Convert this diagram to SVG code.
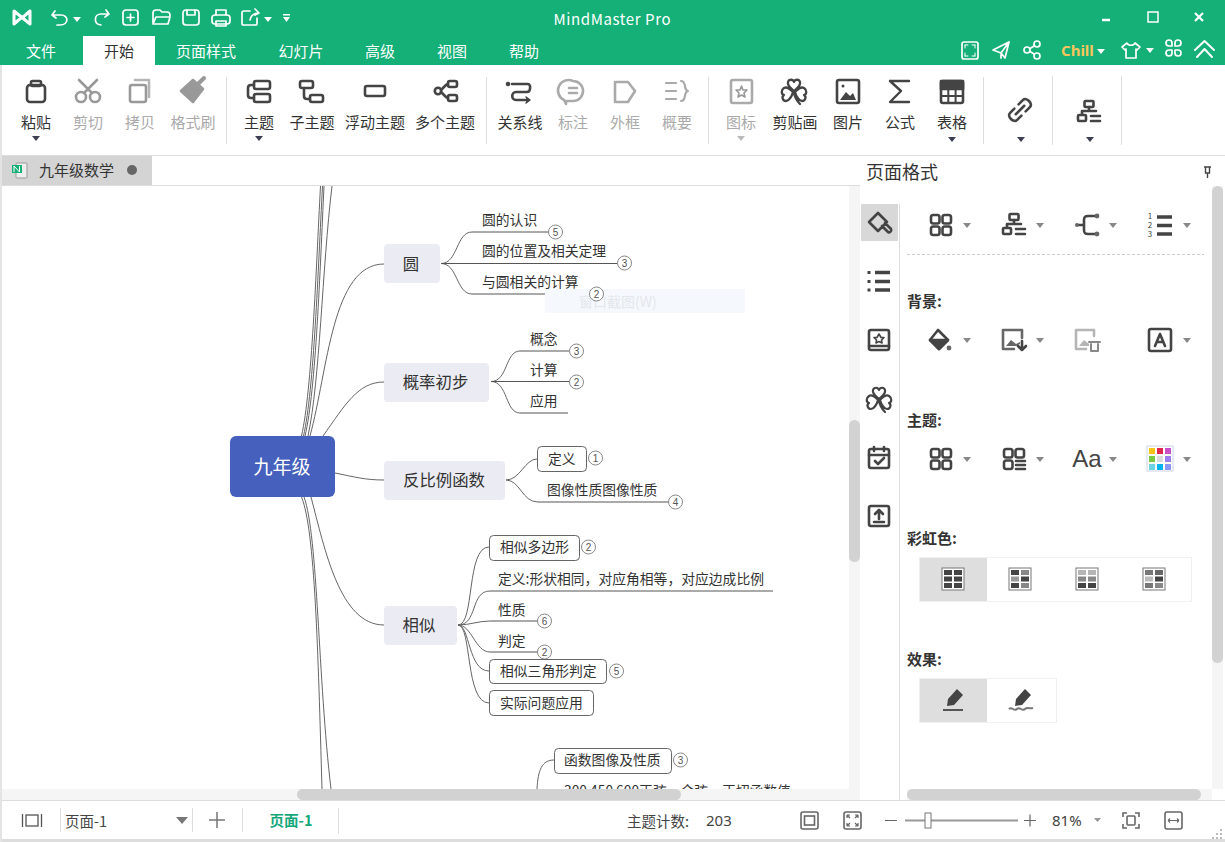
<svg xmlns="http://www.w3.org/2000/svg" xmlns:xlink="http://www.w3.org/1999/xlink" width="1225" height="842" viewBox="0 0 1225 842">
<style>
text{font-family:"Noto Sans CJK SC","Noto Sans","Liberation Sans",sans-serif;dominant-baseline:central;transform:translateY(-1px)}
.tab{font-size:15px;fill:#fff;text-anchor:middle}
.rb{font-size:15px;fill:#333;text-anchor:middle}
.rbg{font-size:15px;fill:#aaa;text-anchor:middle}
.ic{fill:none;stroke:#444;stroke-width:2.6;stroke-linecap:round;stroke-linejoin:round}
.icg{fill:none;stroke:#999;stroke-width:2.6;stroke-linecap:round;stroke-linejoin:round}
.iw{fill:none;stroke:#fff;stroke-width:1.7;stroke-linecap:round;stroke-linejoin:round}
.sep{stroke:#ddd;stroke-width:1}
.cd{fill:#3c3f50}
.cl{fill:#888}
.h{font-size:15px;font-weight:700;fill:#333}
.lk{fill:none;stroke:#666;stroke-width:1}
.ul{fill:none;stroke:#555;stroke-width:1}
.n2{fill:#ebebf3}
.n2t{font-size:16.4px;fill:#333;text-anchor:middle}
.leaf{font-size:13.8px;fill:#333}
.box{fill:#fff;stroke:#666;stroke-width:1}
.bd{fill:#fff;stroke:#888;stroke-width:1}
.bdt{font-size:10px;fill:#555;text-anchor:middle;font-family:"Liberation Sans",sans-serif;transform:none}
.st{font-size:14.5px;fill:#444}
.thumb{fill:#d2d2d2}
.trk{fill:#f5f5f5}
</style>
<defs>
<path id="cd" d="M-4,-2H4L0,3Z"/>
<g id="grid"><rect x="-10" y="-10" width="8.500" height="8.500" rx="2.200"/><rect x="1.500" y="-10" width="8.500" height="8.500" rx="2.200"/><rect x="-10" y="1.500" width="8.500" height="8.500" rx="2.200"/><rect x="1.500" y="1.500" width="8.500" height="8.500" rx="2.200"/></g>
<g id="org"><rect x="-4.500" y="-11" width="9" height="6" rx="1"/><path d="M0,-5V-1M-7,2V-1H7"/><rect x="-11" y="3" width="8" height="6" rx="1"/><path d="M2,4H11M2,9H11"/></g>
<g id="clover"><path d="M0,-1C-3,-4 -7,-6 -6,-10C-5,-13 -1,-13 0,-10C1,-13 5,-13 6,-10C7,-6 3,-4 0,-1ZM-1,0C-4,-3 -7,-6 -10,-4C-13,-2 -13,2 -10,3C-13,5 -11,9 -8,9C-5,9 -2,4 -1,0ZM1,0C4,-3 7,-6 10,-4C13,-2 13,2 10,3C13,5 11,9 8,9C5,9 2,4 1,0ZM0,1C1,6 3,9 6,12"/></g>
</defs>

<rect width="1225" height="842" fill="#fff"/>

<!-- canvas: connectors -->
<g id="connectors" class="lk">
<path d="M301.500,436C312,390 316,270 320.500,186"/>
<path d="M303.500,436C314,390 318,270 322.500,186"/>
<path d="M305,436C316,390 320,270 324,186"/>
<path d="M308,436C320,380 322,270 332,186"/>
<path d="M310,436C328,370 332,264 384,264"/>
<path d="M323,436C345,405 358,382 384,382"/>
<path d="M335,473C355,477 365,480 384,480"/>
<path d="M311,497C325,550 340,625 384,625"/>
<path d="M301.500,497C315,530 318,650 322,789"/>
<path d="M304,497C318,535 318,680 331,789"/>
<path d="M441,263.500C458,263.500 456,232 472,232"/>
<path d="M441,263.500C458,263.500 456,294 472,294"/>
<path d="M491,381.500C508,381.500 505,351 520,351"/>
<path d="M491,381.500C508,381.500 505,413 520,413"/>
<path d="M506,480C520,480 525,459 537,459"/>
<path d="M506,480C520,480 522,502 538,502"/>
<path d="M458,625C475,625 466,547 489,547"/>
<path d="M458,625C478,625 470,591 490,591"/>
<path d="M458,625C470,625 478,621 490,621"/>
<path d="M458,625C472,625 475,652 490,652"/>
<path d="M458,625C470,625 468,671 489,671"/>
<path d="M458,625C472,625 465,703 489,703"/>
<path d="M537,789C538,770 542,760 554,760"/>
<path class="ul" d="M472,232H549M441,263.500H617M472,294H590M520,351H569M491,381.500H569M520,413H568M538,502H669M490,591H773M490,621H538M490,652H538"/>
</g>

<rect x="545" y="289" width="200" height="24" fill="#f5f9fe"/>
<text x="579" y="302" font-size="14" fill="#e4e7ea">窗口截图(W)</text>

<!-- nodes -->
<g id="node-root"><rect x="230" y="436" width="105" height="61" rx="6" fill="#4560bd"/><text x="282" y="466" font-size="19" fill="#fff" text-anchor="middle">九年级</text></g>
<g id="node-yuan"><rect class="n2" x="384" y="244" width="56" height="39" rx="4"/><text class="n2t" x="411" y="264">圆</text></g>
<g id="node-gailv"><rect class="n2" x="384" y="363" width="105" height="39" rx="4"/><text class="n2t" x="435.500" y="382">概率初步</text></g>
<g id="node-fanbili"><rect class="n2" x="384" y="461" width="121" height="39" rx="4"/><text class="n2t" x="444" y="480">反比例函数</text></g>
<g id="node-xiangsi"><rect class="n2" x="384" y="606" width="73" height="39" rx="4"/><text class="n2t" x="419" y="625">相似</text></g>

<g id="leaf-1"><text class="leaf" x="482" y="220">圆的认识</text><circle class="bd" cx="555.500" cy="232" r="7"/><text class="bdt" x="555.500" y="232">5</text></g>
<g id="leaf-2"><text class="leaf" x="482" y="251">圆的位置及相关定理</text><circle class="bd" cx="624.500" cy="263" r="7"/><text class="bdt" x="624.500" y="263">3</text></g>
<g id="leaf-3"><text class="leaf" x="482" y="282">与圆相关的计算</text><circle class="bd" cx="596.500" cy="294" r="7"/><text class="bdt" x="596.500" y="294">2</text></g>
<g id="leaf-4"><text class="leaf" x="530" y="339">概念</text><circle class="bd" cx="576.500" cy="351" r="7"/><text class="bdt" x="576.500" y="351">3</text></g>
<g id="leaf-5"><text class="leaf" x="530" y="370">计算</text><circle class="bd" cx="576.500" cy="382" r="7"/><text class="bdt" x="576.500" y="382">2</text></g>
<g id="leaf-6"><text class="leaf" x="530" y="401">应用</text></g>
<g id="leaf-7"><rect class="box" x="537.500" y="446.500" width="49" height="25" rx="4"/><text class="leaf" x="548" y="459">定义</text><circle class="bd" cx="595.500" cy="458" r="7"/><text class="bdt" x="595.500" y="458">1</text></g>
<g id="leaf-8"><text class="leaf" x="547" y="490">图像性质图像性质</text><circle class="bd" cx="675.500" cy="502" r="7"/><text class="bdt" x="675.500" y="502">4</text></g>
<g id="leaf-9"><rect class="box" x="489.500" y="535.500" width="90" height="25" rx="4"/><text class="leaf" x="500" y="547">相似多边形</text><circle class="bd" cx="588.500" cy="547" r="7"/><text class="bdt" x="588.500" y="547">2</text></g>
<g id="leaf-10"><text class="leaf" x="498" y="579">定义:形状相同，对应角相等，对应边成比例</text></g>
<g id="leaf-11"><text class="leaf" x="498" y="610">性质</text><circle class="bd" cx="544.500" cy="621" r="7"/><text class="bdt" x="544.500" y="621">6</text></g>
<g id="leaf-12"><text class="leaf" x="498" y="641">判定</text><circle class="bd" cx="544.500" cy="652" r="7"/><text class="bdt" x="544.500" y="652">2</text></g>
<g id="leaf-13"><rect class="box" x="489.500" y="659.500" width="117" height="24" rx="4"/><text class="leaf" x="500" y="671">相似三角形判定</text><circle class="bd" cx="616.500" cy="671" r="7"/><text class="bdt" x="616.500" y="671">5</text></g>
<g id="leaf-14"><rect class="box" x="489.500" y="690.500" width="104" height="25" rx="4"/><text class="leaf" x="500" y="703">实际问题应用</text></g>
<g id="leaf-15"><rect class="box" x="554.500" y="748.500" width="117" height="25" rx="4"/><text class="leaf" x="564" y="760">函数图像及性质</text><circle class="bd" cx="680.500" cy="760" r="7"/><text class="bdt" x="680.500" y="760">3</text></g>
<g id="leaf-16"><text class="leaf" x="564" y="791">300 450 600正弦、余弦、正切函数值</text></g>

<!-- scrollbars of canvas -->
<rect class="trk" x="2" y="789" width="858" height="12"/>
<rect class="thumb" x="297" y="789" width="384" height="11" rx="5.500"/>
<rect class="trk" x="849" y="186" width="11" height="603"/>
<rect class="thumb" x="849" y="420" width="11" height="142" rx="5.500"/>

<!-- right panel -->
<g id="panel">
<rect x="860" y="156" width="365" height="645" fill="#fff"/>
<text x="866" y="172" font-size="18" fill="#333">页面格式</text>
<path d="M1204,167h7M1205.500,167v6h4v-6M1207.500,173v5" fill="none" stroke="#444" stroke-width="1.400"/>
<rect x="861" y="204" width="37" height="37" fill="#d8d8d8"/>
<path class="sep" d="M899.500,204V800"/>
<rect class="trk" x="1212" y="186" width="11" height="603"/>
<rect class="thumb" x="1212" y="186" width="11" height="477" rx="5.500"/>
<rect class="trk" x="907" y="789" width="305" height="11"/>
<rect class="thumb" x="907" y="789" width="294" height="11" rx="5.500"/>
<!-- nav icons -->
<g transform="translate(879,223)" class="ic"><path d="M-10,-1L-1,-10L8,-1L-1,8ZM-5,-6L-1,-10M3,3L9,9A2,2 0 0 0 11,5L6,0"/></g>
<g transform="translate(879,281)" fill="none" stroke="#444"><path d="M-4,-8.500H11M-4,0.500H11M-4,9H11" stroke-width="3.500"/><path d="M-11.500,-8.500H-8.500M-11.500,0.500H-8.500M-11.500,9H-8.500" stroke-width="3"/></g>
<g transform="translate(879,340)" class="ic"><rect x="-10" y="-10" width="20" height="20" rx="2"/><path d="M-10,6H10"/><path d="M0,-6L2,-2.500H5L2.500,0L3,3L0,1.500L-3,3L-2.500,0L-5,-2.500H-2Z" stroke-width="1.600"/></g>
<use href="#clover" transform="translate(879,400)" class="ic" style="stroke-width:2.200"/>
<g transform="translate(879,458)" class="ic"><rect x="-10" y="-9" width="20" height="19" rx="2"/><path d="M-10,-3H10M-5,-11V-7M5,-11V-7M-4,3L-1,6L5,0"/></g>
<g transform="translate(879,516)" class="ic"><rect x="-10" y="-10" width="20" height="20" rx="2"/><path d="M0,3V-5M-4,-2L0,-6L4,-2M-5,6H5"/></g>
<!-- row 1 -->
<use href="#grid" transform="translate(941,225)" class="ic"/>
<use href="#org" transform="translate(1014,225)" class="ic"/>
<g transform="translate(1087,225)" class="ic"><path d="M-8,0H-3M8,-9H1C-2,-9 -3,-8 -3,-5V5C-3,8 -2,9 1,9H8"/><circle cx="-10" cy="0" r="2" fill="#666" stroke="none"/><circle cx="10" cy="-9" r="2.400" fill="#666" stroke="none"/><circle cx="10" cy="9" r="2.400" fill="#666" stroke="none"/></g>
<path d="M1157,217H1172M1157,225.500H1172M1157,234H1172" fill="none" stroke="#444" stroke-width="3.500"/>
<text x="1150" y="216.500" font-size="8" fill="#444" text-anchor="middle">1</text><text x="1150" y="225.500" font-size="8" fill="#444" text-anchor="middle">2</text><text x="1150" y="234.500" font-size="8" fill="#444" text-anchor="middle">3</text>
<g class="cl"><use href="#cd" x="967" y="225"/><use href="#cd" x="1040" y="225"/><use href="#cd" x="1113" y="225"/><use href="#cd" x="1187" y="225"/></g>
<path d="M907,254.500H1204" stroke="#ccc" stroke-dasharray="3 2"/>
<text class="h" x="907" y="301">背景:</text>
<g transform="translate(939,340)" class="ic"><path d="M-1,-10L9,0L0,9L-9,0Z"/><path d="M-9,0L9,0L0,9Z" fill="#444"/><circle cx="10" cy="8" r="2.400" fill="#666" stroke="none"/></g>
<g transform="translate(1013,340)" class="ic"><path d="M9,-2V-10H-10V9H1" stroke="#666"/><path d="M-7,6L-2,0L3,4L7,2V4L3,6Z" fill="#666" stroke="none"/><path d="M9,1V10M5,6L9,10L13,6"/></g>
<g transform="translate(1086,340)" class="icg"><path d="M8,-4V-10H-10V9H0" stroke="#b5b5b5"/><path d="M-7,6L-2,0L3,4V6Z" fill="#b5b5b5" stroke="none"/><path d="M3,2H14M5,4V11H12V4" stroke="#888" stroke-width="2"/></g>
<g transform="translate(1160,340)" class="ic"><rect x="-11" y="-11" width="22" height="22" rx="2"/><path d="M-5,6L0,-6L5,6M-3,2H3"/></g>
<g class="cl"><use href="#cd" x="967" y="340"/><use href="#cd" x="1040" y="340"/><use href="#cd" x="1187" y="340"/></g>
<text class="h" x="907" y="420">主题:</text>
<use href="#grid" transform="translate(941,459)" class="ic"/>
<g transform="translate(1014,459)" class="ic"><rect x="-10" y="-10" width="8.500" height="8.500" rx="2.200"/><rect x="1.500" y="-10" width="8.500" height="8.500" rx="2.200"/><rect x="-10" y="1.500" width="8.500" height="8.500" rx="2.200"/><path d="M2,2H11M2,6H11M2,10H11"/></g>
<text x="1087" y="459" font-size="24" fill="#444" text-anchor="middle" style="font-family:'Liberation Sans',sans-serif">Aa</text>
<g transform="translate(1160,459)"><rect x="-13" y="-13" width="26" height="25" fill="#fff" stroke="#ccd3e6"/>
<rect x="-11" y="-11" width="6" height="6" fill="#f5c518"/><rect x="-3" y="-11" width="6" height="6" fill="#e0274f"/><rect x="5" y="-11" width="6" height="6" fill="#c94fc9"/>
<rect x="-11" y="-3" width="6" height="6" fill="#7ac943"/><rect x="-3" y="-3" width="6" height="6" fill="#d9d9d9"/><rect x="5" y="-3" width="6" height="6" fill="#9b7ff0"/>
<rect x="-11" y="5" width="6" height="6" fill="#6fd3e3"/><rect x="-3" y="5" width="6" height="6" fill="#00b4f0"/><rect x="5" y="5" width="6" height="6" fill="#8c96f5"/></g>
<g class="cl"><use href="#cd" x="967" y="459"/><use href="#cd" x="1040" y="459"/><use href="#cd" x="1113" y="459"/><use href="#cd" x="1187" y="459"/></g>
<text class="h" x="907" y="538">彩虹色:</text>
<rect x="919.500" y="557.500" width="272" height="44" fill="#fff" stroke="#f0f0f0"/>
<rect x="920" y="558" width="67" height="43" fill="#dedede"/>
<g transform="translate(953,579)"><rect x="-11" y="-11" width="22" height="22" fill="#fff" stroke="#777"/><g fill="#444"><rect x="-9" y="-9" width="8" height="5"/><rect x="1" y="-9" width="8" height="5"/><rect x="-9" y="-2.500" width="8" height="5"/><rect x="1" y="-2.500" width="8" height="5"/><rect x="-9" y="4" width="8" height="5"/><rect x="1" y="4" width="8" height="5"/></g></g>
<g transform="translate(1020,579)"><rect x="-11" y="-11" width="22" height="22" fill="#fff" stroke="#777"/><rect x="-9" y="-9" width="8" height="5" fill="#444"/><rect x="1" y="-9" width="8" height="5" fill="#888"/><rect x="-9" y="-2.500" width="8" height="5" fill="#999"/><rect x="1" y="-2.500" width="8" height="5" fill="#444"/><rect x="-9" y="4" width="8" height="5" fill="#444"/><rect x="1" y="4" width="8" height="5" fill="#888"/></g>
<g transform="translate(1087,579)"><rect x="-11" y="-11" width="22" height="22" fill="#fff" stroke="#777"/><rect x="-9" y="-9" width="8" height="5" fill="#b5b5b5"/><rect x="1" y="-9" width="8" height="5" fill="#b5b5b5"/><rect x="-9" y="-2.500" width="8" height="5" fill="#888"/><rect x="1" y="-2.500" width="8" height="5" fill="#888"/><rect x="-9" y="4" width="8" height="5" fill="#444"/><rect x="1" y="4" width="8" height="5" fill="#444"/></g>
<g transform="translate(1154,579)"><rect x="-11" y="-11" width="22" height="22" fill="#fff" stroke="#777"/><rect x="-9" y="-9" width="8" height="5" fill="#777"/><rect x="1" y="-9" width="8" height="5" fill="#666"/><rect x="-9" y="-2.500" width="8" height="5" fill="#bbb"/><rect x="1" y="-2.500" width="8" height="5" fill="#444"/><rect x="-9" y="4" width="8" height="5" fill="#777"/><rect x="1" y="4" width="8" height="5" fill="#888"/></g>
<text class="h" x="907" y="659">效果:</text>
<rect x="919.500" y="678.500" width="137" height="44" fill="#fff" stroke="#f0f0f0"/>
<rect x="920" y="679" width="67" height="43" fill="#dedede"/>
<g transform="translate(953,700)"><path d="M4,-11L10,-5L1,5L-6,6L-5,-1Z" fill="#444"/><path d="M-10,10H10" stroke="#555" stroke-width="2"/></g>
<g transform="translate(1021,700)"><path d="M4,-11L10,-5L1,5L-6,6L-5,-1Z" fill="#444"/><path d="M-12,9C-9,6 -7,12 -4,9C-1,6 1,12 4,9C6,7 9,9 12,8" fill="none" stroke="#777" stroke-width="2"/></g>
</g>

<!-- title bar + tabs -->
<g id="titlebar">
<rect width="1225" height="65" fill="#15af78"/>
<rect x="83" y="36" width="72" height="29" fill="#fff"/>
<path d="M14,24V11L30,24V11M14,24L22,17M30,11L22,18" fill="none" stroke="#fff" stroke-width="3" stroke-linejoin="round" stroke-linecap="round"/>
<g class="iw">
<path d="M55,11L52,15L56,18M52,15H61C69,15 69,25 60,25H57"/>
<path d="M106,10L109,14L105,17M109,14H101C94,14 93,24 101,25"/>
<rect x="123" y="10" width="15" height="15" rx="3"/><path d="M130.500,14V21M127,17.500H134"/>
<path d="M153,24V13C153,11 154,10 156,10H160L162,12H167C169,12 170,13 170,15V16M153,24L156,17H170L168,24Z"/>
<rect x="183" y="10" width="16" height="15" rx="3"/><path d="M187,10V15H195V10"/>
<rect x="212" y="15" width="18" height="9" rx="3"/><path d="M216,15V10H226V15M216,21H226V26H216Z"/>
<path d="M250,11H244C243,11 242,12 242,13V24C242,25 243,25 244,25H255C256,25 257,25 257,24V18M250,20C251,15 254,13 259,13M255,9L259,13L255,15"/>
</g>
<g fill="#fff"><use href="#cd" x="77" y="19"/><use href="#cd" x="268" y="19"/><path d="M283,14H290V15.500H283ZM283,17H290L286.500,22Z"/></g>
<text x="612" y="19" font-size="15" fill="#fff" text-anchor="middle" textLength="117">MindMaster Pro</text>
<path d="M1102,20H1110" stroke="#fff" stroke-width="2.500"/>
<rect x="1148" y="12" width="10" height="10" fill="none" stroke="#fff" stroke-width="1.500"/>
<path d="M1195,13L1203,21M1203,13L1195,21" stroke="#fff" stroke-width="2.200"/>
<text class="tab" x="41" y="51">文件</text>
<text class="tab" x="119" y="51" style="fill:#333">开始</text>
<text class="tab" x="206" y="51">页面样式</text>
<text class="tab" x="301" y="51">幻灯片</text>
<text class="tab" x="380" y="51">高级</text>
<text class="tab" x="452" y="51">视图</text>
<text class="tab" x="524" y="51">帮助</text>
<g class="iw">
<rect x="962" y="42" width="16" height="17" rx="2"/><path d="M965,45h3M965,45v3M975,45h-3M975,45v3M965,56h3M965,56v-3M975,56h-3M975,56v-3" stroke-width="1"/>
<path d="M993,50L1009,42L1005,58L1001,53ZM1001,53L1001,58M1009,42L1001,53"/>
<circle cx="1027" cy="50" r="3"/><circle cx="1037" cy="44" r="3"/><circle cx="1037" cy="56" r="3"/><path d="M1030,48.500L1034,46M1030,51.500L1034,54"/>
<path d="M1127,43L1122,47L1125,50L1126,49V58H1136V49L1137,50L1140,47L1135,43C1134,46 1128,46 1127,43Z"/>
<path d="M1169,46h3v-3a3,3 0 1 0 -3,3ZM1178,46h-3v-3a3,3 0 1 1 3,3ZM1169,50h3v3a3,3 0 1 1 -3,-3ZM1178,50h-3v3a3,3 0 1 0 3,-3Z"/>
<path d="M1195,50L1204.500,41L1214,50M1197,57L1204.500,49L1212,57" stroke-width="2"/>
</g>
<text x="1061" y="51" font-size="15" font-weight="700" fill="#f6c65b" style="font-family:'Noto Sans',sans-serif">Chill</text>
<g fill="#fff"><use href="#cd" x="1101" y="51"/><use href="#cd" x="1150" y="50"/></g>
</g>

<!-- ribbon -->
<g id="ribbon">
<path class="sep" d="M226.500,77V144M486.500,77V144M708.500,77V144M983.500,77V144M1052.500,76V145M1121.500,76V145"/>
<g class="ic">
<rect x="27" y="85" width="18" height="17" rx="3"/><rect x="31" y="81" width="10" height="5" rx="1.500"/>
<rect x="254" y="81" width="16" height="8" rx="2"/><rect x="254" y="94" width="16" height="8" rx="2"/><path d="M254,85H251C249,85 248,86 248,88V95C248,97 249,98 251,98H254"/>
<rect x="300" y="81" width="13" height="7" rx="2"/><rect x="310" y="95" width="13" height="7" rx="2"/><path d="M304,88V96C304,98 305,99 307,99H310"/>
<rect x="365" y="86" width="20" height="10" rx="2"/>
<circle cx="438" cy="91" r="3.200"/><rect x="448" y="81" width="9" height="6" rx="2"/><rect x="448" y="95" width="9" height="6" rx="2"/><path d="M441,90L446,85L448,84M441,92L446,97L448,98"/>
<path d="M512,84H528C531,84 531,92 527,92H516C511,92 511,100 516,100H525"/>
<circle cx="508" cy="84" r="1" fill="#444"/><path d="M526,97L530,100L526,103" fill="#444" stroke-width="1.500"/>
<path d="M890,81H909M890,81L901,91L890,102H909" stroke-width="2.400"/>
<rect x="941" y="81" width="22" height="22" rx="2"/><path d="M941,89H963M941,96H963M948.300,89V103M955.600,89V103" stroke-width="2"/><rect x="941" y="81" width="22" height="8" fill="#444"/>
<g transform="translate(1020,110) rotate(-45)"><path d="M-3,-5H-9C-14,-5 -14,5 -9,5H-3M3,-5H9C14,-5 14,5 9,5H3M-6,0H6"/></g>
<use href="#clover" transform="translate(794,92)" style="stroke-width:2.300"/>
<use href="#org" transform="translate(1089,112)"/>
</g>
<rect x="837" y="80" width="22" height="23" rx="2" fill="none" stroke="#444" stroke-width="2.600"/><path d="M840,100L846,92L850,96L853,93L856,100Z" fill="#444"/><circle cx="843" cy="86" r="1.500" fill="#444"/>
<g class="icg">
<circle cx="81" cy="97" r="5"/><circle cx="95" cy="97" r="5"/><path d="M84,93L97,80M92,93L79,80"/>
<rect x="130" y="85" width="16" height="17" rx="2"/><path d="M135,80H149V97" stroke="#b5b5b5"/>
<path d="M193,80L203,89L193,102L181,91Z" fill="#999"/><path d="M196,86L204,78" stroke-width="4"/>
<rect x="731" y="80" width="21" height="23" rx="2" stroke="#aaa"/><path d="M741.500,86L743,90H747L744,93L745,97L741.500,95L738,97L739,93L736,90H740Z" stroke-width="1.600"/>
</g>
<g fill="none" stroke="#aaa" stroke-width="2.600" stroke-linecap="round" stroke-linejoin="round">
<path d="M573,81A10,10 0 0 1 573,101H566V104L564,100A10,10 0 0 1 573,81Z"/><path d="M569,88H577M569,93H577"/>
<path d="M615,82H628L635,91L628,102H615Z"/>
<path d="M666,83H676M666,91H676M666,99H676M681,81C687,81 683,90 688,91C683,92 687,101 681,101" stroke-width="2.200"/>
</g>
<text class="rb" x="36" y="122">粘贴</text>
<text class="rbg" x="88" y="122">剪切</text>
<text class="rbg" x="140" y="122">拷贝</text>
<text class="rbg" x="193" y="122">格式刷</text>
<text class="rb" x="259" y="122">主题</text>
<text class="rb" x="312" y="122">子主题</text>
<text class="rb" x="375" y="122">浮动主题</text>
<text class="rb" x="445" y="122">多个主题</text>
<text class="rb" x="520" y="122">关系线</text>
<text class="rbg" x="573" y="122">标注</text>
<text class="rbg" x="625" y="122">外框</text>
<text class="rbg" x="677" y="122">概要</text>
<text class="rbg" x="741" y="122">图标</text>
<text class="rb" x="795" y="122">剪贴画</text>
<text class="rb" x="848" y="122">图片</text>
<text class="rb" x="900" y="122">公式</text>
<text class="rb" x="952" y="122">表格</text>
<g class="cd"><use href="#cd" x="36" y="138"/><use href="#cd" x="259" y="138"/><use href="#cd" x="952" y="139"/><use href="#cd" x="1021" y="139"/><use href="#cd" x="1090" y="139"/></g>
<use href="#cd" x="741" y="138" fill="#bbb"/>
</g>

<!-- doc tabs -->
<g id="doctabs">
<path d="M0,155.500H1225" stroke="#ddd"/>
<path d="M0,185.500H860" stroke="#ddd"/>
<rect x="2" y="156" width="150" height="29" fill="#d4d4d4"/>
<rect x="16" y="163" width="11" height="15" rx="1" fill="#eee" stroke="#999"/>
<rect x="12" y="165" width="10" height="8" fill="#15af78"/>
<path d="M14,172V166L19.500,172V166" fill="none" stroke="#fff"/>
<text x="39" y="170" font-size="15" fill="#333">九年级数学</text>
<circle cx="132" cy="170" r="5" fill="#666"/>
</g>

<!-- status bar -->
<g id="statusbar">
<rect x="0" y="801" width="1225" height="38" fill="#fff"/>
<path d="M0,800.500H1225" stroke="#ddd"/>
<rect x="0" y="839" width="1225" height="3" fill="#ddd"/>
<rect x="0" y="65" width="2" height="777" fill="#e4e4e4"/>
<path class="sep" d="M60.500,808V832M192.500,808V832M242.500,808V832M338.500,808V834"/>
<g fill="none" stroke="#555" stroke-width="1.300"><rect x="26" y="815" width="12" height="11"/><path d="M22.500,814V827M41.500,814V827"/></g>
<text x="65" y="821" font-size="14.500" fill="#444">页面-1</text>
<path d="M176,817H188L182,824Z" fill="#777"/>
<path d="M209,820H225M217,812V828" stroke="#777" stroke-width="1.500"/>
<text x="291" y="820" font-size="14.500" font-weight="700" fill="#15a77a" text-anchor="middle">页面-1</text>
<text class="st" x="627" y="821">主题计数:</text>
<text class="st" x="706" y="821" style="font-family:'Noto Sans',sans-serif;font-size:15px">203</text>
<g fill="none" stroke="#666" stroke-width="1.600">
<rect x="801" y="812" width="17" height="17" rx="2"/><rect x="804.500" y="816" width="10" height="9"/>
<rect x="844" y="812" width="17" height="17" rx="2"/><path d="M847,815L850,818M847,815h3M847,815v3M858,815L855,818M858,815h-3M858,815v3M847,826L850,823M847,826h3M847,826v-3M858,826L855,823M858,826h-3M858,826v-3" stroke-width="1.200"/>
<path d="M885,820.500H897M1024,820.500H1036M1030,814.500V826.500" stroke-width="1.200"/>
<path d="M1123,817V813H1127M1135,813H1139V817M1123,824V828H1127M1135,828H1139V824"/><rect x="1127" y="816" width="8" height="9" rx="1"/>
<rect x="1165" y="812" width="17" height="17" rx="2"/><path d="M1168,820.500H1179M1168,820.500l2,-2M1168,820.500l2,2M1179,820.500l-2,-2M1179,820.500l-2,2" stroke-width="1.100"/>
</g>
<path d="M905,820.500H1018" stroke="#999" stroke-width="2"/>
<rect x="925" y="813" width="6" height="15" fill="#fff" stroke="#777"/>
<text x="1052" y="821" font-size="15" fill="#444" style="font-family:'Noto Sans',sans-serif">81%</text>
<path d="M1094,818H1101L1097.500,822Z" fill="#999"/>
<g fill="#bbb"><rect x="1220" y="829" width="2" height="2"/><rect x="1216" y="833" width="2" height="2"/><rect x="1220" y="833" width="2" height="2"/><rect x="1212" y="837" width="2" height="2"/><rect x="1216" y="837" width="2" height="2"/><rect x="1220" y="837" width="2" height="2"/></g>
</g>
</svg>
